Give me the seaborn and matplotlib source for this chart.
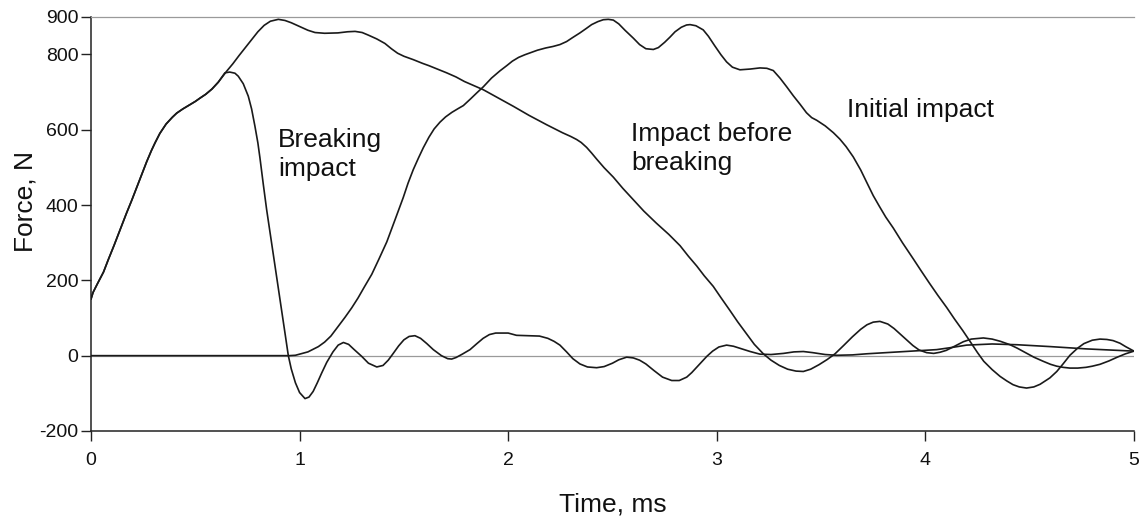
import matplotlib
matplotlib.use("Agg")
import matplotlib.pyplot as plt
import pandas as pd
import seaborn as sns

# Force-time traces (time in ms, force in N)
t_before = [0.0, 0.01, 0.03, 0.06, 0.083, 0.11, 0.14, 0.17, 0.195, 0.23, 0.267, 0.29, 0.307,
            0.33, 0.36, 0.39, 0.411, 0.44, 0.47, 0.50, 0.523, 0.55, 0.58, 0.61, 0.65, 0.68,
            0.71, 0.74, 0.77, 0.80, 0.83, 0.86, 0.898, 0.93, 0.96, 1.0, 1.04, 1.074, 1.12,
            1.184, 1.23, 1.266, 1.30, 1.33, 1.37, 1.409, 1.44, 1.47, 1.50, 1.545, 1.59, 1.62,
            1.66, 1.705, 1.75, 1.79, 1.84, 1.881, 1.95, 2.025, 2.1, 2.185, 2.26, 2.30, 2.328,
            2.35, 2.376, 2.40, 2.424, 2.46, 2.504, 2.55, 2.6, 2.65, 2.71, 2.77, 2.824, 2.864,
            2.904, 2.94, 2.983, 3.02, 3.063, 3.10, 3.143, 3.18, 3.223, 3.26, 3.30, 3.34, 3.38,
            3.415, 3.45, 3.49, 3.53, 3.567, 3.61, 3.65, 3.69, 3.72, 3.75, 3.782, 3.82, 3.85,
            3.88, 3.91, 3.94, 3.97, 4.006, 4.04, 4.07, 4.10, 4.14, 4.182, 4.22, 4.278, 4.32,
            4.36, 4.406, 4.44, 4.48, 4.52, 4.565, 4.60, 4.63, 4.66, 4.693, 4.73, 4.77, 4.80,
            4.837, 4.88, 4.92, 4.96, 5.0]
f_before = [150, 168, 190, 222, 255, 292, 335, 378, 412, 462, 515, 545, 565,
            590, 615, 633, 644, 655, 665, 675, 684, 694, 708, 726, 755, 775,
            797, 818, 839, 860, 877, 888, 893, 890, 884, 874, 864, 858, 856,
            857, 860, 861, 858, 851, 841, 829, 815, 803, 795, 786, 776, 770,
            761, 751, 740, 728, 716, 706, 685, 662, 638, 613, 592, 582, 574,
            566, 553, 538, 522, 499, 474, 444, 414, 384, 352, 322, 292, 264,
            238, 212, 184, 154, 120, 90, 58, 30, 5, -12, -26, -36, -41,
            -42, -36, -24, -10, 5, 28, 50, 70, 82, 89, 91, 84, 72,
            57, 42, 27, 15, 8, 6, 9, 14, 25, 37, 44, 47, 44,
            38, 29, 20, 8, -4, -15, -23, -28, -31, -33, -33, -31, -28,
            -23, -14, -4, 5, 12]

t_breaking = [0.0, 0.01, 0.03, 0.06, 0.083, 0.11, 0.14, 0.17, 0.195, 0.23, 0.267, 0.29, 0.307,
              0.33, 0.36, 0.39, 0.411, 0.44, 0.47, 0.50, 0.523, 0.55, 0.58, 0.61, 0.642,
              0.665, 0.69, 0.706, 0.73, 0.754, 0.77, 0.786, 0.80, 0.81, 0.826, 0.842, 0.866,
              0.89, 0.914, 0.93, 0.946, 0.96, 0.98, 1.0, 1.026, 1.045, 1.065, 1.085, 1.106,
              1.13, 1.16, 1.185, 1.21, 1.235, 1.26, 1.298, 1.33, 1.37, 1.40, 1.425, 1.449,
              1.475, 1.50, 1.525, 1.553, 1.58, 1.61, 1.641, 1.68, 1.71, 1.729, 1.75, 1.78,
              1.817, 1.85, 1.88, 1.91, 1.94, 2.0, 2.04, 2.10, 2.15, 2.19, 2.22, 2.248, 2.28,
              2.31, 2.344, 2.38, 2.424, 2.46, 2.50, 2.53, 2.568, 2.60, 2.63, 2.66, 2.70, 2.74,
              2.784, 2.82, 2.856, 2.88, 2.91, 2.952, 2.98, 3.01, 3.047, 3.08, 3.12, 3.16,
              3.207, 3.26, 3.32, 3.37, 3.415, 3.46, 3.52, 3.575, 3.65, 3.72, 3.782, 3.90,
              4.054, 4.13, 4.198, 4.32, 4.44, 4.6, 4.77, 5.0]
f_breaking = [150, 168, 190, 222, 255, 292, 335, 378, 412, 462, 515, 545, 565,
              590, 615, 633, 644, 655, 665, 675, 684, 694, 708, 726, 751,
              753, 750, 742, 722, 689, 655, 609, 565, 525, 455, 388, 299,
              211, 122, 60, 0, -35, -72, -98, -114, -110, -95, -72, -46,
              -18, 10, 28, 35, 30, 17, -2, -20, -30, -26, -12, 6,
              26, 42, 51, 53, 46, 32, 16, 0, -8, -9, -5, 4,
              16, 32, 46, 56, 60, 60, 54, 53, 52, 46, 38, 28, 10,
              -8, -22, -30, -32, -29, -20, -11, -4, -6, -12, -22, -40, -57,
              -66, -66, -57, -45, -27, -2, 12, 23, 28, 25, 18, 11,
              4, 3, 6, 10, 11, 8, 3, 1, 2, 5, 7, 11,
              16, 22, 28, 31, 29, 24, 18, 12]

t_initial = [0.0, 0.95, 0.98, 1.0, 1.04, 1.09, 1.12, 1.15, 1.18, 1.218, 1.25, 1.28, 1.31,
             1.346, 1.38, 1.418, 1.457, 1.497, 1.52, 1.545, 1.57, 1.593, 1.62, 1.645, 1.673,
             1.70, 1.73, 1.76, 1.785, 1.82, 1.85, 1.881, 1.92, 1.96, 1.993, 2.02, 2.05, 2.08,
             2.105, 2.14, 2.18, 2.215, 2.248, 2.28, 2.31, 2.344, 2.375, 2.40, 2.43, 2.456,
             2.48, 2.504, 2.53, 2.56, 2.60, 2.63, 2.66, 2.696, 2.72, 2.75, 2.776, 2.80, 2.83,
             2.855, 2.872, 2.90, 2.935, 2.96, 2.99, 3.02, 3.047, 3.075, 3.111, 3.16, 3.207,
             3.24, 3.271, 3.303, 3.335, 3.367, 3.40, 3.43, 3.455, 3.479, 3.52, 3.559, 3.59,
             3.62, 3.654, 3.69, 3.719, 3.75, 3.78, 3.81, 3.846, 3.89, 3.942, 3.98, 4.02,
             4.06, 4.102, 4.14, 4.18, 4.214, 4.25, 4.28, 4.32, 4.358, 4.39, 4.42, 4.45,
             4.485, 4.52, 4.55, 4.597, 4.63, 4.66, 4.693, 4.73, 4.76, 4.80, 4.837, 4.87,
             4.90, 4.933, 4.96, 5.0]
f_initial = [0, 0, 1, 4, 10, 24, 36, 52, 74, 102, 127, 153, 182,
             216, 256, 302, 360, 420, 458, 494, 525, 552, 580, 602, 620,
             634, 646, 656, 664, 682, 698, 714, 737, 756, 770, 782, 792, 799,
             804, 811, 817, 821, 826, 834, 845, 857, 869, 879, 887, 892,
             893, 891, 881, 864, 843, 826, 815, 813, 818, 832, 846, 860, 872,
             878, 879, 876, 865, 848, 823, 799, 780, 766, 759, 761, 764,
             763, 757, 737, 714, 690, 667, 645, 632, 625, 610, 592, 575,
             555, 528, 493, 460, 425, 396, 368, 339, 300, 257, 225, 192,
             160, 128, 97, 66, 38, 8, -15, -37, -55, -67, -77, -83,
             -86, -83, -76, -59, -42, -22, 1, 20, 32, 41, 44, 43,
             40, 33, 24, 12]

y_ticks = [-200, 0, 200, 400, 600, 800, 900]
y_tick_labels = ["-200", "0", "200", "400", "600", "800", "900"]
x_ticks = [0, 1, 2, 3, 4, 5]
x_tick_labels = ["0", "1", "2", "3", "4", "5"]

curve_labels = ["Breaking\nimpact", "Impact before\nbreaking", "Initial impact"]
label_x = [0.896, 2.59, 3.625]
label_y = [534, 550, 651]

sns.set_theme(style="white")
plt.rcParams["font.family"] = ["Liberation Sans", "DejaVu Sans"]

fig = plt.figure(figsize=(11.46, 5.27), dpi=100)
ax = fig.add_axes([0.0794, 0.1822, 0.9101, 0.7861])

ax.axhline(0, color="#9a9a9a", lw=0.9, zorder=1)

line_kw = dict(color="#1a1a1a", linewidth=1.2, estimator=None, sort=False, zorder=3,
               solid_joinstyle="round", solid_capstyle="round")
for t, f in [(t_before, f_before), (t_breaking, f_breaking), (t_initial, f_initial)]:
    df = pd.DataFrame({"Time": t, "Force": f})
    sns.lineplot(data=df, x="Time", y="Force", ax=ax, **line_kw)

for txt, x, y in zip(curve_labels, label_x, label_y):
    ax.text(x, y, txt, ha="left", va="center", fontsize=19, color="#111111",
            linespacing=1.25)

ax.set_xlim(0, 5)
ax.set_ylim(-200, 900)
ax.set_xticks(x_ticks)
ax.set_xticklabels(x_tick_labels)
ax.set_yticks(y_ticks)
ax.set_yticklabels(y_tick_labels)

ax.set_xlabel("Time, ms", fontsize=19, labelpad=17, color="#111111")
ax.set_ylabel("Force, N", fontsize=19, color="#111111")
ax.yaxis.set_label_coords(-0.0513, 0.555)

ax.tick_params(axis="both", which="major", direction="out", length=7, width=1.0,
               color="#222222", labelsize=14, labelcolor="#111111",
               bottom=True, left=True, top=False, right=False)
ax.tick_params(axis="x", pad=8)
ax.tick_params(axis="y", pad=2)

for side in ["left", "bottom"]:
    ax.spines[side].set_color("#222222")
    ax.spines[side].set_linewidth(1.1)
ax.spines["right"].set_visible(False)
ax.spines["top"].set_color("#9a9a9a")
ax.spines["top"].set_linewidth(0.9)

ax.grid(False)
fig.savefig("out.png", dpi=100, facecolor="white")
